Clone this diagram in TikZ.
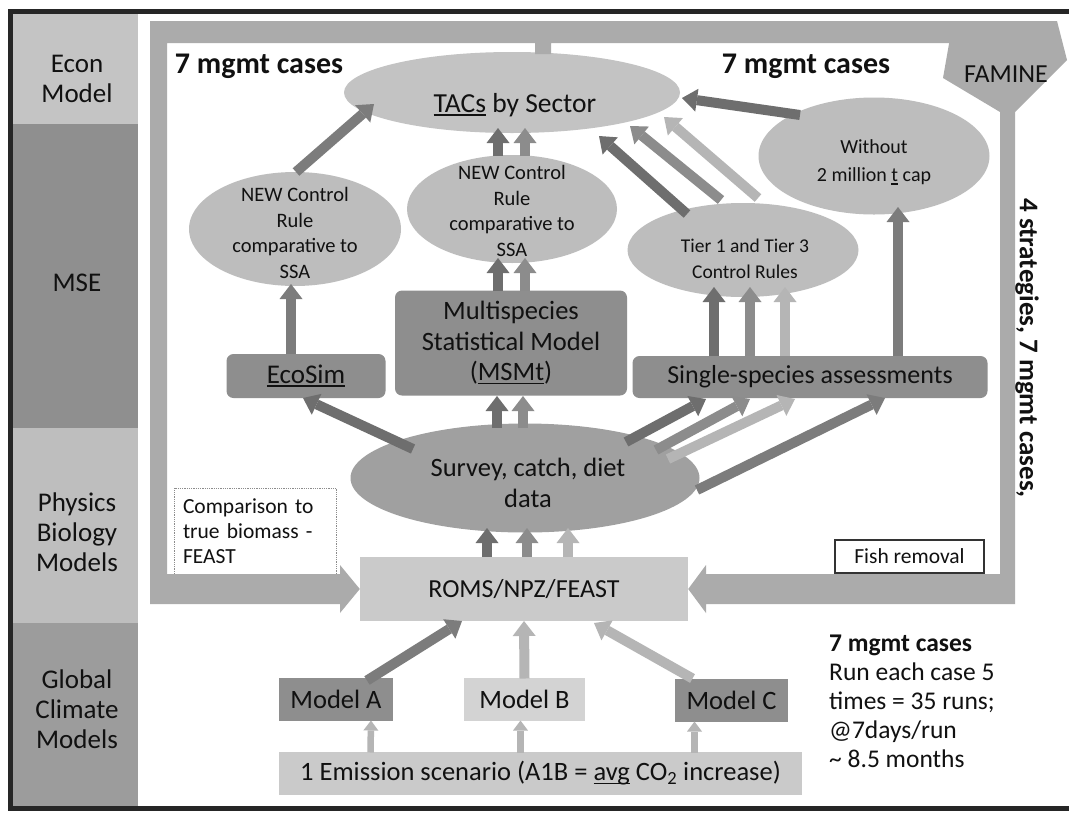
\documentclass[tikz,border=0pt]{standalone}
\usepackage{fontspec}
\setmainfont{Carlito}
\usetikzlibrary{arrows.meta,shapes.geometric}
\definecolor{econc}{HTML}{C4C4C4}
\definecolor{msec}{HTML}{8F8F8F}
\definecolor{physc}{HTML}{BEBEBE}
\definecolor{globc}{HTML}{9C9C9C}
\definecolor{bandc}{HTML}{ABABAB}
\definecolor{ellc}{HTML}{BDBDBD}
\definecolor{tacsc}{HTML}{C3C3C3}
\definecolor{survc}{HTML}{A0A0A0}
\definecolor{darkbox}{HTML}{8E8E8E}
\definecolor{lightbox}{HTML}{CACACA}
\definecolor{mbc}{HTML}{D3D3D3}
\definecolor{adark}{HTML}{6E6E6E}
\definecolor{amd}{HTML}{7C7C7C}
\definecolor{amed}{HTML}{8C8C8C}
\definecolor{alight}{HTML}{B5B5B5}
\definecolor{txtc}{HTML}{111111}
\newcommand\fsz[2]{\fontsize{#1}{#2}\selectfont}
\newcommand\ulx[1]{\leavevmode\setbox0\hbox{#1}\rlap{\rule[-3.4pt]{\wd0}{1.7pt}}\box0\relax}
\begin{document}
\begin{tikzpicture}[x=1pt,y=-1pt,
  ell/.style={ellipse, draw=none, fill=ellc, inner sep=0pt},
  txt/.style={text=txtc, align=center, inner sep=0pt},
  rbox/.style={rounded corners=7pt, draw=none, inner sep=0pt, text=txtc, align=center},
  sbox/.style={draw=none, inner sep=0pt, text=txtc, align=center},
  lab/.style={text=txtc, align=center, inner sep=0pt, font=\fsz{27}{30}},
  blk/.style={line width=10pt, -{Triangle[width=23pt,length=15pt,line width=0pt]}},
  sblk/.style={line width=6.5pt, -{Triangle[width=15pt,length=10pt,line width=0pt]}}
]
\useasboundingbox (0,0) rectangle (1069,812);
\fill[white] (0,0) rectangle (1069,812);

% left column
\fill[econc] (13,13) rectangle (138,124);
\fill[msec] (13,124) rectangle (138,428);
\fill[physc] (13,428) rectangle (138,623);
\fill[globc] (13,623) rectangle (138,806);
\draw[line width=5pt, black!85] (1069,11) -- (10.5,11) -- (10.5,808) -- (1069,808);

\node[lab] (econ) at (77,79) {Econ\\Model};
\node[lab] (mse) at (77,283) {MSE};
\node[lab] (phys) at (77,532) {Physics\\Biology\\Models};
\node[lab] (glob) at (77,709) {Global\\Climate\\Models};

% boxes and ellipses
\node[sbox, fill=lightbox, minimum width=328, minimum height=64, font=\fsz{26}{30}] (roms) at (524,589) {ROMS/NPZ/FEAST};
\node[ell, fill=tacsc, minimum width=336, minimum height=81] (tacs) at (512,92.5) {};
\node[ell, minimum width=212, minimum height=114] (ncr1) at (295,229) {};
\node[ell, minimum width=210, minimum height=108] (ncr2) at (512,209) {};
\node[ell, minimum width=231, minimum height=94] (tier) at (743,250) {};
\node[ell, minimum width=231, minimum height=117] (wo) at (874,156) {};
\node[ell, fill=survc, minimum width=349, minimum height=109] (survey) at (525,478) {};

\node[rbox, fill=darkbox, minimum width=159, minimum height=44, font=\fsz{27}{30}] (ecosim) at (306,376) {\ulx{EcoSim}};
\node[rbox, fill=darkbox, minimum width=232, minimum height=105, font=\fsz{26.5}{30.5}] (msmt) at (511,343) {Multispecies\\Statistical Model\\(\ulx{MSMt})};
\node[rbox, fill=darkbox, minimum width=355, minimum height=42, font=\fsz{26}{30}] (ssa) at (810,377) {Single-species assessments};
\node[sbox, fill=darkbox, minimum width=114, minimum height=43, font=\fsz{26.5}{30}] (ma) at (336,699.5) {Model A};
\node[sbox, fill=mbc, minimum width=121, minimum height=43, font=\fsz{26.5}{30}] (mb) at (524.5,699.5) {Model B};
\node[sbox, fill=darkbox, minimum width=113, minimum height=43, font=\fsz{26.5}{30}] (mc) at (731.5,700.5) {Model C};
\node[sbox, fill=lightbox, minimum width=523, minimum height=43, font=\fsz{26.5}{30}] (emis) at (540.5,773.5) {1 Emission scenario (A1B = \ulx{avg} CO\textsubscript{2} increase)};

\node[draw=black!45, densely dotted, line width=0.8pt, text=txtc, align=left, text width=144, inner xsep=9, inner ysep=0, minimum height=86, font=\fsz{21.5}{25}] (cmp) at (255,531) {Comparison to\\true biomass -\\FEAST};
\node[sbox, draw=black!80, line width=1.1pt, minimum width=149, minimum height=33, font=\fsz{21.5}{24}] (fish) at (909.5,556.5) {Fish removal};

% texts inside ellipses
\node[txt, font=\fsz{27.5}{31}] (tacsT) at (515,105) {\ulx{TACs} by Sector};
\node[txt, font=\fsz{20.5}{25.5}] (ncr1T) at (295,233) {NEW Control\\Rule\\comparative to\\SSA};
\node[txt, font=\fsz{20.5}{25.5}] (ncr2T) at (512,211) {NEW Control\\Rule\\comparative to\\SSA};
\node[txt, font=\fsz{19.5}{26}] (tierT) at (745,259) {Tier 1 and Tier 3\\Control Rules};
\node[txt, font=\fsz{20}{28}] (woT) at (874,162) {Without\\2 million \ulx{t} cap};
\node[txt, font=\fsz{26.5}{31}] (survT) at (528,483) {Survey, catch, diet\\data};

% loop bands
\fill[bandc] (955,21) -- (150,21) -- (150,604) -- (340,604) -- (340,613) -- (roms.west) -- (340,565) -- (340,574) -- (167,574) -- (167,43) -- (535,43) -- (535,54) -- (551,54) -- (551,43) -- (955,43) -- cycle;
\fill[bandc] (953,21) -- (1057,21) -- (1067,60) -- (1015,112) -- (1015,604) -- (706,604) -- (706,613) -- (roms.east) -- (706,565) -- (706,574) -- (1000,574) -- (1000,112) -- (943,78) -- cycle;
\node[txt, font=\fsz{26}{30}] (famine) at (1006,74) {FAMINE};
\node[txt, font=\bfseries\fsz{27}{30}, rotate=-90] (strat) at (1027,348) {4 strategies, 7 mgmt cases,};

% headings and note
\node[txt, font=\bfseries\fsz{30}{34}] (tl7) at (259,66) {7 mgmt cases};
\node[txt, font=\bfseries\fsz{30}{34}] (tr7) at (806,66) {7 mgmt cases};
\node[txt, anchor=west, align=left, font=\fsz{25.5}{29}] (note) at (829,701) {\textbf{7 mgmt cases}\\Run each case 5\\times = 35 runs;\\@7days/run\\\textasciitilde\ 8.5 months};

% arrows
\draw[blk, amd] ([shift={(1,-57)}]ncr1.center) -- ([shift={(-138,11.5)}]tacs.center);
\draw[blk, adark] ([shift={(-14,-53)}]ncr2.center) -- ([shift={(-14,35.5)}]tacs.center);
\draw[blk, amed] ([shift={(13,-53)}]ncr2.center) -- ([shift={(13,35.5)}]tacs.center);
\draw[blk, adark] ([shift={(-13,-52)}]msmt.center) -- ([shift={(-14,49)}]ncr2.center);
\draw[blk, amed] ([shift={(14,-52)}]msmt.center) -- ([shift={(13,49)}]ncr2.center);
\draw[blk, amd] ([shift={(-15,-22)}]ecosim.center) -- ([shift={(-4,55)}]ncr1.center);
\draw[blk, adark] ([shift={(-112,-29)}]survey.center) -- ([shift={(-3,22)}]ecosim.center);
\draw[blk, adark] ([shift={(-28,-50)}]survey.center) -- ([shift={(-14,53)}]msmt.center);
\draw[blk, amed] ([shift={(-2,-50)}]survey.center) -- ([shift={(12,53)}]msmt.center);
\draw[blk, adark] ([shift={(101,-36)}]survey.center) -- ([shift={(-104,22)}]ssa.center);
\draw[blk, amed] ([shift={(131,-28)}]survey.center) -- ([shift={(-60,22)}]ssa.center);
\draw[blk, alight] ([shift={(143,-19)}]survey.center) -- ([shift={(-15,22)}]ssa.center);
\draw[blk, amd] ([shift={(172,12)}]survey.center) -- ([shift={(75,21)}]ssa.center);
\draw[blk, adark] ([shift={(-96,-21)}]ssa.center) -- ([shift={(-29,37)}]tier.center);
\draw[blk, amed] ([shift={(-60,-21)}]ssa.center) -- ([shift={(7,37)}]tier.center);
\draw[blk, alight] ([shift={(-25,-21)}]ssa.center) -- ([shift={(42,37)}]tier.center);
\draw[blk, amd] ([shift={(88,-21)}]ssa.center) -- ([shift={(24,51)}]wo.center);
\draw[blk, adark] ([shift={(-56,-36)}]tier.center) -- ([shift={(87,43.5)}]tacs.center);
\draw[blk, amed] ([shift={(-22,-50)}]tier.center) -- ([shift={(118,33.5)}]tacs.center);
\draw[blk, alight] ([shift={(15,-52)}]tier.center) -- ([shift={(152,24.5)}]tacs.center);
\draw[blk, adark] ([shift={(-74,-41)}]wo.center) -- ([shift={(170,5.5)}]tacs.center);
\draw[blk, adark] ([shift={(-37,-32)}]roms.center) -- ([shift={(-38,50)}]survey.center);
\draw[blk, amed] ([shift={(3,-32)}]roms.center) -- ([shift={(2,50)}]survey.center);
\draw[blk, alight] ([shift={(44,-32)}]roms.center) -- ([shift={(43,50)}]survey.center);
\draw[blk, amd] ([shift={(31,-19)}]ma.center) -- ([shift={(-62,32)}]roms.center);
\draw[blk, alight] ([shift={(0,-21)}]mb.center) -- ([shift={(0,32)}]roms.center);
\draw[blk, alight] ([shift={(-39,-22)}]mc.center) -- ([shift={(70,34)}]roms.center);
\draw[sblk, alight] ([shift={(-170,-21)}]emis.center) -- ([shift={(35,21)}]ma.center);
\draw[sblk, alight] ([shift={(-20,-21)}]emis.center) -- ([shift={(-4,21)}]mb.center);
\draw[sblk, alight] ([shift={(154,-21)}]emis.center) -- ([shift={(-37,21)}]mc.center);
\end{tikzpicture}
\end{document}
